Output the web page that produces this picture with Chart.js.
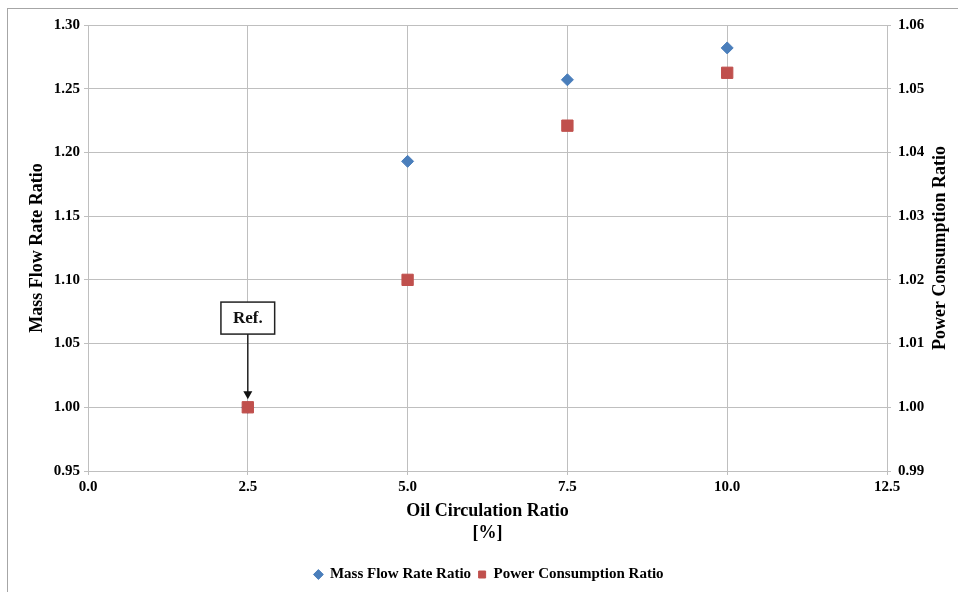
<!DOCTYPE html>
<html>
<head>
<meta charset="utf-8">
<script src="https://cdn.jsdelivr.net/npm/chart.js@4"></script>
<style>
  html, body { margin: 0; padding: 0; background: #fff; }
  .frame { position: absolute; left: 7px; top: 8px; width: 1000px; height: 700px;
           border-left: 1px solid #a6a6a6; border-top: 1px solid #a6a6a6; }
  .chart-wrapper { position: absolute; left: 0; top: 0; width: 958px; height: 592px; }
</style>
</head>
<body>
<div class="frame"></div>
<div class="chart-wrapper"><canvas id="chart"></canvas></div>
<script>
// Oil circulation ratio [%]
const ocr = [2.5, 5.0, 7.5, 10.0];
// Series values
const massFlowRatio = [1.000, 1.193, 1.257, 1.282];
const powerRatio = [1.000, 1.020, 1.0442, 1.0525];
// Reference annotation
const refLabel = 'Ref.';
const refBoxY = 1.070;

const FONT = "'Liberation Serif', 'Times New Roman', serif";

const toPoints = (xs, ys) => xs.map((x, i) => ({ x: x, y: ys[i] }));

// Right axis title (reads bottom to top, Excel style) + Ref. callout
const extras = {
  id: 'extras',
  afterDatasetsDraw(chart) {
    const ctx = chart.ctx;
    const xs = chart.scales.x, y = chart.scales.y, y2 = chart.scales.y2;
    const area = chart.chartArea;

    // Ref. box with arrow
    ctx.save();
    ctx.font = 'bold 17px ' + FONT;
    const cx = xs.getPixelForValue(ocr[0]);
    const cy = y.getPixelForValue(refBoxY);
    const w = ctx.measureText(refLabel).width + 24;
    const h = 32;
    ctx.fillStyle = '#fff';
    ctx.fillRect(cx - w / 2, cy - h / 2, w, h);
    ctx.strokeStyle = '#222';
    ctx.lineWidth = 1.5;
    ctx.strokeRect(cx - w / 2, cy - h / 2, w, h);
    ctx.fillStyle = '#111';
    ctx.textAlign = 'center';
    ctx.textBaseline = 'middle';
    ctx.fillText(refLabel, cx, cy + 1);

    const tipY = y2.getPixelForValue(powerRatio[0]) - 8;
    ctx.beginPath();
    ctx.moveTo(cx, cy + h / 2);
    ctx.lineTo(cx, tipY - 7);
    ctx.stroke();
    ctx.beginPath();
    ctx.moveTo(cx - 4.5, tipY - 8);
    ctx.lineTo(cx + 4.5, tipY - 8);
    ctx.lineTo(cx, tipY);
    ctx.closePath();
    ctx.fill();
    ctx.restore();

    // right axis title
    ctx.save();
    ctx.font = 'bold 18px ' + FONT;
    ctx.fillStyle = '#000';
    ctx.textAlign = 'center';
    ctx.textBaseline = 'middle';
    ctx.translate(940, (area.top + area.bottom) / 2);
    ctx.rotate(-Math.PI / 2);
    ctx.fillText('Power Consumption Ratio', 0, 0);
    ctx.restore();
  }
};

const gridColor = '#bfbfbf';
const tickFont = { family: FONT, size: 15, weight: 'bold' };
const titleFont = { family: FONT, size: 18, weight: 'bold' };

new Chart(document.getElementById('chart'), {
  type: 'scatter',
  data: {
    datasets: [
      {
        label: 'Mass Flow Rate Ratio',
        data: toPoints(ocr, massFlowRatio),
        yAxisID: 'y',
        pointStyle: 'rectRot',
        pointRadius: 6,
        pointHoverRadius: 6,
        backgroundColor: '#4a7ebb',
        borderColor: '#4a7ebb',
        borderWidth: 1,
        order: 1
      },
      {
        label: 'Power Consumption Ratio',
        data: toPoints(ocr, powerRatio),
        yAxisID: 'y2',
        pointStyle: 'rect',
        pointRadius: 8,
        pointHoverRadius: 8,
        backgroundColor: '#c0504d',
        borderColor: '#c0504d',
        borderWidth: 1,
        order: 0
      }
    ]
  },
  options: {
    responsive: true,
    maintainAspectRatio: false,
    animation: false,
    layout: { padding: { top: 25, left: 20, right: 0, bottom: 0 } },
    plugins: {
      legend: {
        position: 'bottom',
        labels: {
          usePointStyle: true,
          boxHeight: 7,
          boxWidth: 8,
          padding: 7,
          color: '#000',
          font: { family: FONT, size: 15, weight: 'bold' },
          sort: (a, b) => a.datasetIndex - b.datasetIndex
        }
      },
      tooltip: { enabled: false }
    },
    scales: {
      x: {
        type: 'linear',
        min: 0,
        max: 12.5,
        afterFit: (s) => { s.height = 89; },
        ticks: {
          stepSize: 2.5,
          padding: 3,
          color: '#000',
          font: tickFont,
          callback: (v) => v.toFixed(1)
        },
        grid: { color: gridColor, tickLength: 4 },
        border: { color: gridColor },
        title: {
          display: true,
          text: ['Oil Circulation Ratio', '[%]'],
          color: '#000',
          font: titleFont,
          padding: { top: 0, bottom: 16 }
        }
      },
      y: {
        position: 'left',
        min: 0.95,
        max: 1.30,
        afterFit: (s) => { s.width = 68; },
        ticks: {
          stepSize: 0.05,
          padding: 4,
          color: '#000',
          font: tickFont,
          callback: (v) => v.toFixed(2)
        },
        grid: { color: gridColor, tickLength: 4 },
        border: { color: gridColor },
        title: {
          display: true,
          text: 'Mass Flow Rate Ratio',
          color: '#000',
          font: titleFont,
          padding: { top: 7, bottom: 0 }
        }
      },
      y2: {
        position: 'right',
        min: 0.99,
        max: 1.06,
        afterFit: (s) => { s.width = 71; },
        ticks: {
          stepSize: 0.01,
          padding: 7,
          color: '#000',
          font: tickFont,
          callback: (v) => v.toFixed(2)
        },
        grid: { drawOnChartArea: false, color: gridColor, tickLength: 4 },
        border: { color: gridColor }
      }
    }
  },
  plugins: [extras]
});
</script>
</body>
</html>
